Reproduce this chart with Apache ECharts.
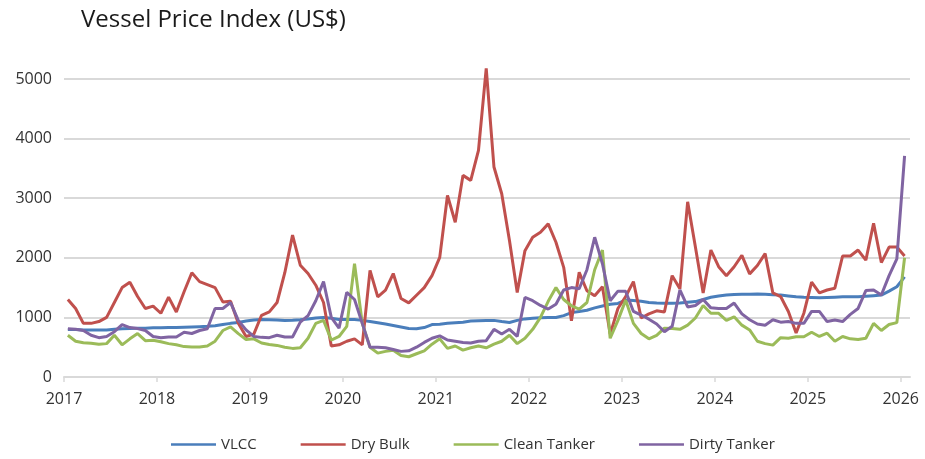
<!DOCTYPE html>
<html>
<head>
    <meta charset="utf-8" />
    <title>Vessel Price Index</title>
    <script src="https://cdn.jsdelivr.net/npm/echarts@6/dist/echarts.min.js"></script>
    <style>
        html, body { margin: 0; padding: 0; background: #fff; }
        #chart { width: 925px; height: 459px; }
    </style>
</head>
<body>
    <div id="chart"></div>
    <script type="text/javascript">
        // monthly readings, Jan 2017 .. Jan 2026
        var vlcc = [
            795, 795, 790, 790, 790, 790, 800, 810, 815, 820, 820, 825,
            825, 830, 830, 835, 840, 845, 850, 860, 880, 900, 915, 940,
            955, 963, 960, 955, 950, 952, 960, 975, 990, 997, 985, 965,
            963, 963, 950, 930, 910, 890, 865, 840, 815, 810, 830, 880,
            886, 900, 910, 920, 940, 945, 950, 950, 930, 915, 950, 975,
            985, 995, 998, 998, 1030, 1080, 1100, 1120, 1160, 1190, 1220, 1234,
            1290, 1285, 1270, 1250, 1240, 1236, 1236, 1240, 1255, 1265, 1300, 1337,
            1360, 1375, 1385, 1388, 1390, 1394, 1390, 1380, 1375, 1360, 1345, 1337,
            1335, 1330, 1335, 1340, 1345, 1345, 1347, 1355, 1365, 1375, 1440, 1514,
            1680
        ];
        var dryBulk = [
            1300, 1150, 900, 900, 930, 1000, 1250, 1500, 1590, 1350, 1150, 1190,
            1070, 1340, 1090, 1430, 1750, 1600, 1550, 1500, 1260, 1270, 900, 680,
            720, 1036, 1092, 1250, 1750, 2380, 1876, 1736, 1540, 1250, 520, 540,
            600, 640, 540, 1790, 1344, 1456, 1736, 1316, 1243, 1372, 1500, 1700,
            2008, 3046, 2597, 3383, 3299, 3804, 5178, 3523, 3074, 2289, 1419, 2120,
            2345, 2429, 2569, 2261, 1840, 942, 1756, 1447, 1363, 1515, 720, 1150,
            1350, 1600, 990, 1060, 1110, 1090, 1700, 1480, 2940, 2180, 1410, 2130,
            1850, 1700, 1850, 2040, 1730, 1870, 2070, 1410, 1350, 1100, 740, 1070,
            1590, 1410, 1460, 1490, 2030, 2030, 2130, 1960, 2580, 1920, 2180, 2180,
            2030
        ];
        var cleanTanker = [
            700, 600, 575, 565, 549, 560, 700, 540, 640, 728, 610, 616,
            590, 560, 540, 510, 505, 505, 520, 600, 780, 840, 728, 630,
            640, 570, 545, 530, 500, 480, 490, 650, 900, 950, 620, 680,
            850, 1900, 900, 500, 400, 430, 450, 360, 340, 390, 440, 550,
            640, 480, 520, 450, 490, 520, 490, 550, 600, 700, 560, 650,
            800, 1000, 1270, 1500, 1300, 1195, 1140, 1250, 1800, 2130, 650, 950,
            1290, 900, 730, 640, 700, 820, 815, 800, 870, 990, 1200, 1070,
            1068, 950, 1010, 870, 790, 600, 560, 535, 660, 650, 674, 674,
            750, 680, 735, 600, 680, 640, 630, 650, 900, 780, 880, 913,
            2000
        ];
        var dirtyTanker = [
            810, 800, 780, 700, 660, 680, 760, 880, 830, 812, 780, 680,
            660, 670, 672, 750, 730, 780, 810, 1148, 1150, 1250, 950, 790,
            680, 665, 660, 700, 670, 672, 920, 1030, 1280, 1600, 1000, 820,
            1420, 1300, 900, 500, 500, 490, 460, 430, 440, 500, 580, 650,
            690, 620, 600, 580, 570, 600, 610, 800, 720, 800, 680, 1335,
            1280, 1200, 1140, 1220, 1460, 1500, 1480, 1800, 2345, 1900, 1280, 1440,
            1440, 1100, 1040, 970, 890, 760, 850, 1460, 1175, 1200, 1300, 1160,
            1150, 1150, 1240, 1060, 960, 890, 870, 960, 920, 930, 900, 900,
            1100, 1100, 930, 957, 930, 1050, 1150, 1450, 1460, 1375, 1700, 1980,
            3712
        ];
        var yearTicks = [2017, 2018, 2019, 2020, 2021, 2022, 2023, 2024, 2025, 2026];

        // mid-month positions on a year axis
        function pairs(values) {
            var out = [];
            for (var i = 0; i < values.length; i++) {
                out.push([2017 + (i + 0.5) / 12, values[i]]);
            }
            return out;
        }

        function plain(v) {
            return String(v);
        }

        var font = 'Open Sans';
        var myChart = echarts.init(document.getElementById('chart'));

        myChart.setOption({
            animation: false,
            title: {
                text: 'Vessel Price Index (US$)',
                left: 76,
                top: 3,
                textStyle: {
                    fontFamily: font,
                    fontSize: 24,
                    fontWeight: 'normal',
                    color: '#1a1a1a'
                }
            },
            grid: {
                left: 64,
                right: 15,
                top: 79,
                bottom: 82
            },
            legend: {
                left: 166,
                top: 432,
                icon: 'rect',
                itemWidth: 45,
                itemHeight: 2.5,
                itemGap: 44,
                textStyle: {
                    fontFamily: font,
                    fontSize: 15,
                    color: '#333'
                },
                data: ['VLCC', 'Dry Bulk', 'Clean Tanker', 'Dirty Tanker']
            },
            xAxis: {
                type: 'value',
                min: 2017,
                max: 2026.1,
                interval: 1,
                splitLine: { show: false },
                axisLine: {
                    show: true,
                    lineStyle: { color: '#d9d9d9', width: 2 }
                },
                axisTick: {
                    show: true,
                    customValues: yearTicks,
                    length: 5,
                    lineStyle: { color: '#d9d9d9', width: 1.5 }
                },
                axisLabel: {
                    customValues: yearTicks,
                    formatter: plain,
                    margin: 14,
                    fontFamily: font,
                    fontSize: 16,
                    color: '#333'
                }
            },
            yAxis: {
                type: 'value',
                min: 0,
                max: 5000,
                interval: 1000,
                axisLine: { show: false },
                axisTick: { show: false },
                splitLine: {
                    lineStyle: { color: '#d9d9d9', width: 2 }
                },
                axisLabel: {
                    formatter: plain,
                    margin: 12,
                    fontFamily: font,
                    fontSize: 16,
                    color: '#333'
                }
            },
            series: [{
                name: 'VLCC',
                type: 'line',
                symbol: 'none',
                clip: false,
                lineStyle: { width: 3, color: '#4A7EBB' },
                itemStyle: { color: '#4A7EBB' },
                data: pairs(vlcc)
            }, {
                name: 'Dry Bulk',
                type: 'line',
                symbol: 'none',
                clip: false,
                lineStyle: { width: 3, color: '#C0504D' },
                itemStyle: { color: '#C0504D' },
                data: pairs(dryBulk)
            }, {
                name: 'Clean Tanker',
                type: 'line',
                symbol: 'none',
                clip: false,
                lineStyle: { width: 3, color: '#9BBB59' },
                itemStyle: { color: '#9BBB59' },
                data: pairs(cleanTanker)
            }, {
                name: 'Dirty Tanker',
                type: 'line',
                symbol: 'none',
                clip: false,
                lineStyle: { width: 3, color: '#8064A2' },
                itemStyle: { color: '#8064A2' },
                data: pairs(dirtyTanker)
            }]
        });
    </script>
</body>
</html>
